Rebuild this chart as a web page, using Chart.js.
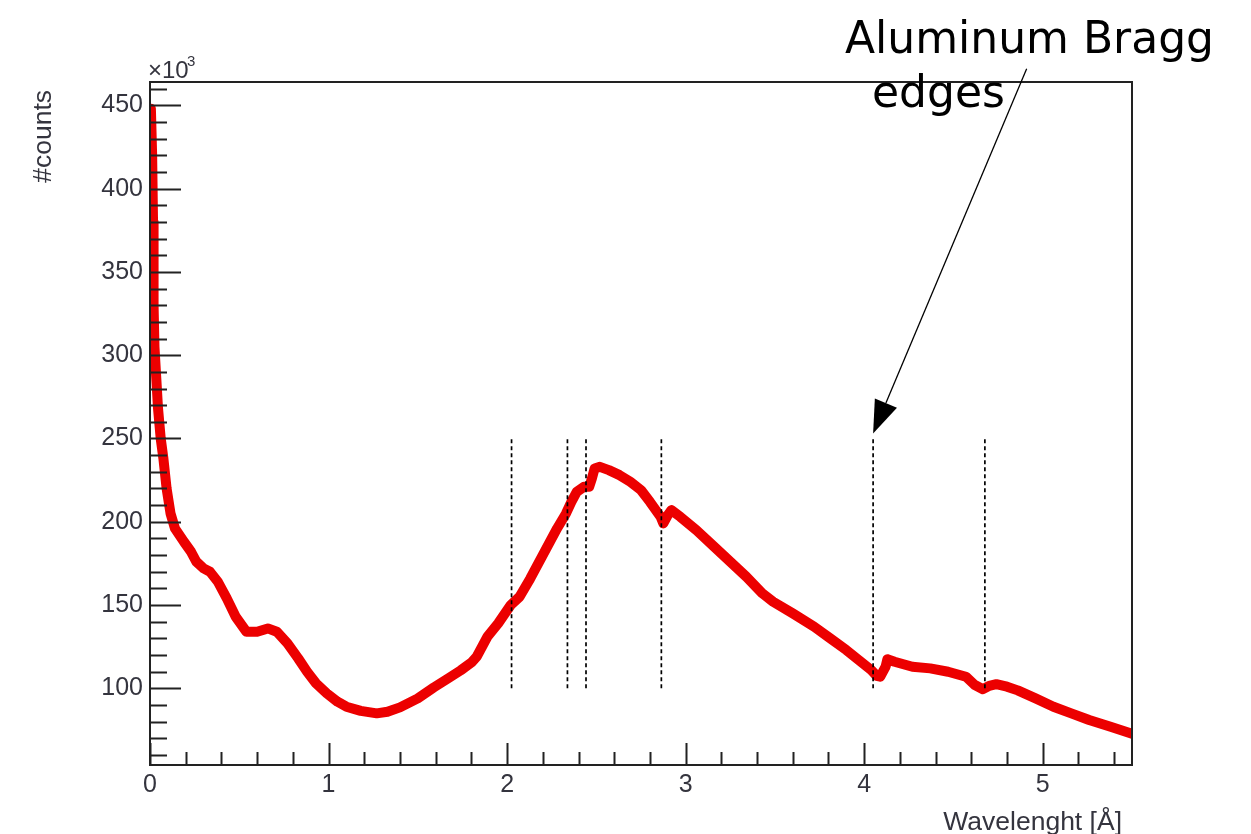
<!DOCTYPE html>
<html>
<head>
    <title>Aluminum Bragg edges</title>
    <style>
        body { margin: 0; background: #fff; }
        .wrap { width: 1251px; height: 834px; position: relative; }
    </style>
    <script src="https://cdn.jsdelivr.net/npm/chart.js"></script>
</head>
<body>
<div class="wrap"><canvas id="myChart"></canvas></div>
<script>
// wavelength [Å] and counts (x10^3)
var wavelength = [0.005, 0.012, 0.017, 0.02, 0.025, 0.032, 0.045, 0.06, 0.075, 0.093, 0.115, 0.14, 0.19, 0.23, 0.26, 0.30, 0.336, 0.38, 0.43, 0.48,
    0.54, 0.60, 0.66, 0.71, 0.77, 0.83, 0.88, 0.93, 0.99, 1.05, 1.10, 1.18, 1.27, 1.33, 1.40, 1.50, 1.59, 1.67, 1.74, 1.80,
    1.83, 1.86, 1.89, 1.95, 2.02, 2.07, 2.13, 2.22, 2.28, 2.33, 2.36, 2.39, 2.43, 2.46, 2.475, 2.49, 2.52, 2.57, 2.63, 2.69,
    2.75, 2.80, 2.86, 2.875, 2.90, 2.92, 2.97, 3.06, 3.16, 3.25, 3.34, 3.43, 3.49, 3.60, 3.72, 3.81, 3.90, 3.97, 4.04, 4.07,
    4.09, 4.12, 4.13, 4.17, 4.27, 4.37, 4.47, 4.57, 4.62, 4.665, 4.70, 4.74, 4.80, 4.86, 4.96, 5.06, 5.16, 5.26, 5.38, 5.50];
var counts = [448, 420, 380, 330, 305, 292, 268, 250, 238, 220, 205, 196, 188, 182, 176, 172, 170, 164, 154, 143,
    134, 134, 136, 134, 127, 118, 110, 103, 97, 92, 89, 86.5, 85, 86, 88.6, 94, 100.6, 106, 110.8, 115.5,
    119, 125, 131, 139, 150, 155, 166, 184, 196, 205, 212, 218, 221, 221, 226, 232, 233, 231, 228, 224,
    219, 212, 203, 199, 204, 207, 203, 195, 185, 176, 167, 157, 152, 145, 137, 130, 123, 117, 111, 107.5,
    107, 113, 117.5, 116, 113, 112, 110, 107, 102, 99.5, 101.5, 102.5, 101, 98.8, 94, 89, 85, 81, 77, 72.8];

// aluminum Bragg edge positions [Å] and the span of the marker lines
var braggEdges = [2.025, 2.338, 2.442, 2.864, 4.05, 4.676];
var edgeLow = 100;
var edgeHigh = 250;

// axis ticks
var xMajorTicks = [0, 1, 2, 3, 4, 5];
var yMajorTicks = [100, 150, 200, 250, 300, 350, 400, 450];
var xMinorStep = 0.2;
var yMinorStep = 10;

var labelFont = '"Liberation Sans", Arial, sans-serif';
var textColor = '#34343e';

var datasets = [{
    data: wavelength.map((w, i) => ({x: w, y: counts[i]})),
    borderColor: '#ec0000',
    borderWidth: 10,
    borderJoinStyle: 'round',
    borderCapStyle: 'round',
    pointRadius: 0,
    tension: 0,
    clip: 0,
    order: 2
}];
braggEdges.forEach(e => {
    datasets.push({
        data: [{x: e, y: edgeLow}, {x: e, y: edgeHigh}],
        borderColor: '#000',
        borderWidth: 1.7,
        borderDash: [4, 3],
        pointRadius: 0,
        order: 1
    });
});

// ROOT style frame with ticks pointing inwards, plus titles and the annotation
var rootFrame = {
    id: 'rootFrame',
    afterDatasetsDraw(chart) {
        var ctx = chart.ctx, a = chart.chartArea;
        var xs = chart.scales.x, ys = chart.scales.y;
        ctx.save();
        ctx.strokeStyle = '#222';
        ctx.lineWidth = 2;
        ctx.strokeRect(a.left, a.top, a.right - a.left, a.bottom - a.top);
        ctx.beginPath();
        for (var v = 60; v <= ys.max; v += yMinorStep) {
            var py = Math.round(ys.getPixelForValue(v)) + 0.5;
            var len = yMajorTicks.indexOf(v) >= 0 ? 31 : 17;
            ctx.moveTo(a.left, py);
            ctx.lineTo(a.left + len, py);
        }
        for (var k = 0; k * xMinorStep <= xs.max + 1e-9; k++) {
            var xv = Math.round(k * xMinorStep * 10) / 10;
            var px = Math.round(xs.getPixelForValue(xv)) + 0.5;
            var lenx = xMajorTicks.indexOf(xv) >= 0 ? 22 : 13;
            ctx.moveTo(px, a.bottom);
            ctx.lineTo(px, a.bottom - lenx);
        }
        ctx.stroke();
        ctx.restore();
    },
    afterDraw(chart) {
        var ctx = chart.ctx, a = chart.chartArea;
        var xs = chart.scales.x, ys = chart.scales.y;
        ctx.save();
        ctx.fillStyle = textColor;
        // x10^3
        ctx.font = '24px ' + labelFont;
        ctx.textBaseline = 'alphabetic';
        ctx.textAlign = 'left';
        ctx.fillText('\u00d710', a.left - 2, a.top - 4);
        ctx.font = '15px ' + labelFont;
        ctx.fillText('3', a.left + 37, a.top - 16);
        // axis titles
        ctx.font = '26.5px ' + labelFont;
        ctx.textAlign = 'right';
        ctx.fillText('Wavelenght [\u00c5]', a.right - 10, 830);
        ctx.translate(51, a.top + 8);
        ctx.rotate(-Math.PI / 2);
        ctx.fillText('#counts', 0, 0);
        ctx.restore();

        // annotation
        ctx.save();
        ctx.fillStyle = '#000';
        ctx.strokeStyle = '#000';
        ctx.font = '44px "DejaVu Sans", sans-serif';
        ctx.textAlign = 'left';
        ctx.fillText('Aluminum Bragg', 845, 53);
        ctx.fillText('edges', 872, 107);
        var x0 = xs.getPixelForValue(4.91), y0 = ys.getPixelForValue(472);
        var x1 = xs.getPixelForValue(4.05), y1 = ys.getPixelForValue(253);
        var ang = Math.atan2(y1 - y0, x1 - x0);
        var hl = 33, hw = 12;
        var bx = x1 - hl * Math.cos(ang), by = y1 - hl * Math.sin(ang);
        ctx.lineWidth = 1.3;
        ctx.beginPath();
        ctx.moveTo(x0, y0);
        ctx.lineTo(bx, by);
        ctx.stroke();
        ctx.beginPath();
        ctx.moveTo(x1, y1);
        ctx.lineTo(bx + hw * Math.sin(ang), by - hw * Math.cos(ang));
        ctx.lineTo(bx - hw * Math.sin(ang), by + hw * Math.cos(ang));
        ctx.closePath();
        ctx.fill();
        ctx.restore();
    }
};

var ctx = document.getElementById('myChart').getContext('2d');
var myChart = new Chart(ctx, {
    type: 'line',
    data: { datasets: datasets },
    plugins: [rootFrame],
    options: {
        responsive: true,
        maintainAspectRatio: false,
        animation: false,
        layout: { padding: { left: 0, top: 82, right: 119, bottom: 0 } },
        plugins: { legend: { display: false }, tooltip: { enabled: false } },
        scales: {
            x: {
                type: 'linear',
                min: 0,
                max: 5.5,
                grid: { display: false, drawTicks: false },
                border: { display: false },
                afterBuildTicks: s => { s.ticks = xMajorTicks.map(v => ({value: v})); },
                afterFit: s => { s.height = 69; },
                ticks: { padding: 5, maxRotation: 0, color: textColor, font: { family: labelFont, size: 25 } }
            },
            y: {
                type: 'linear',
                min: 54,
                max: 464,
                grid: { display: false, drawTicks: false },
                border: { display: false },
                afterBuildTicks: s => { s.ticks = yMajorTicks.map(v => ({value: v})); },
                afterFit: s => { s.width = 150; },
                ticks: { padding: 7, color: textColor, font: { family: labelFont, size: 25 } }
            }
        }
    }
});
</script>
</body>
</html>
